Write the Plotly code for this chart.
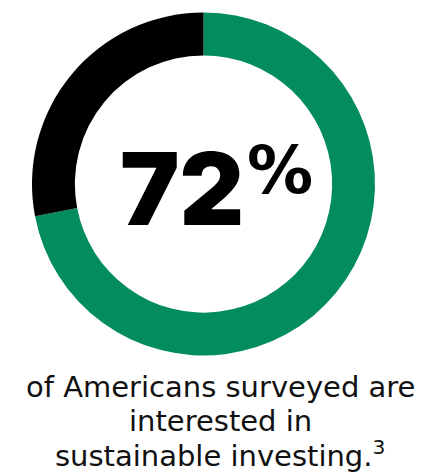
import plotly.graph_objects as go

labels = ["Interested", "Not interested"]
values = [72, 28]
colors = ["#038C5C", "#000000"]
big_number = "72"
caption_lines = ["of Americans surveyed are", "interested in", "sustainable investing.<sup>3</sup>"]

W, H = 435, 473

def px(x):
    return x / W

def py(y):
    return 1 - y / H

fig = go.Figure(go.Pie(
    labels=labels, values=values, hole=0.75, sort=False, direction="clockwise",
    rotation=0, marker=dict(colors=colors, line=dict(width=0)), textinfo="none",
    hoverinfo="label+percent",
    domain=dict(x=[px(32), px(375)], y=[py(357), py(11)]),
))

ann = []
ann.append(dict(text=big_number, x=px(182), y=py(188), xref="paper", yref="paper",
                showarrow=False, xanchor="center", yanchor="middle",
                font=dict(family="Inter", size=100, color="#000000", weight=900)))
ann.append(dict(text="%", x=px(280), y=py(170), xref="paper", yref="paper",
                showarrow=False, xanchor="center", yanchor="middle",
                font=dict(family="DejaVu Sans", size=66, color="#000000", weight="bold")))
ys = [387, 421, 454]
for t, y in zip(caption_lines, ys):
    ann.append(dict(text=t, x=px(220), y=py(y), xref="paper", yref="paper",
                    showarrow=False, xanchor="center", yanchor="middle",
                    font=dict(family="DejaVu Sans", size=29, color="#111111")))

fig.update_layout(width=W, height=H, margin=dict(l=0, r=0, t=0, b=0),
                  showlegend=False, paper_bgcolor="white", plot_bgcolor="white",
                  annotations=ann)
fig.write_html("out.html")
